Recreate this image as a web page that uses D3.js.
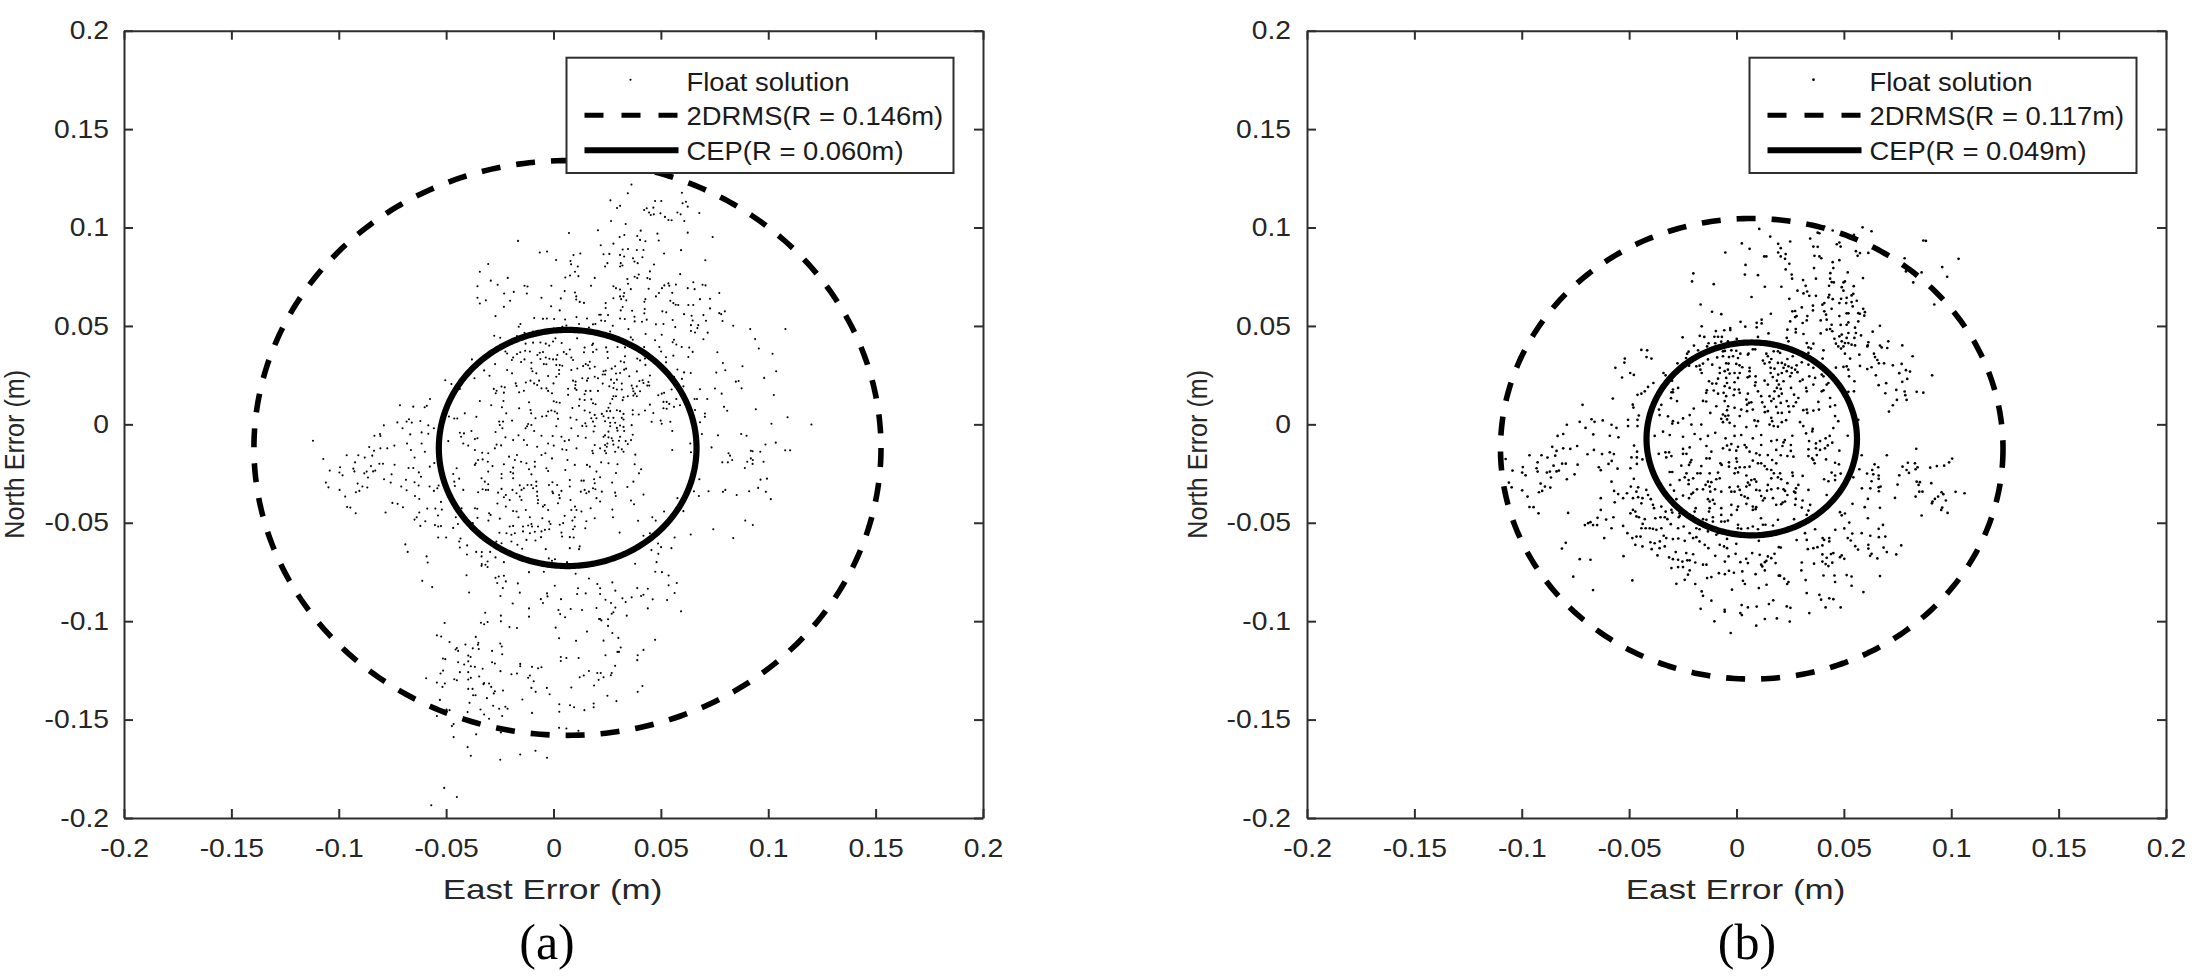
<!DOCTYPE html>
<html>
<head>
<meta charset="utf-8">
<script src="https://cdn.jsdelivr.net/npm/d3@7"></script>
<style>
  html, body { margin: 0; padding: 0; background: #fff; }
  svg { display: block; }
</style>
</head>
<body>
<div class="area"></div>
<script>
const tickValues = [-0.2, -0.15, -0.1, -0.05, 0, 0.05, 0.1, 0.15, 0.2]
const tickLabels = ["-0.2", "-0.15", "-0.1", "-0.05", "0", "0.05", "0.1", "0.15", "0.2"]
const axisDomain = [-0.2, 0.2]
const legendNames = ["Float solution", "2DRMS(R = ", "CEP(R = "]

// ring centre east, centre north, radius (m)
const dashedRingA = [0.0065, -0.012, 0.146]
const solidRingA = [0.0066, -0.012, 0.060]
const dashedRingB = [0.0071, -0.0124, 0.117]
const solidRingB = [0.0071, -0.0074, 0.049]

// float solutions, east,north pairs in mm
const floatA = [
7.2,97.2,-16.5,93.2,20.7,98.6,-6.4,87.3,-3,87.8,1.2,83.5,7.9,83,9.3,86,12.5,86.8,8.2,81.3,11.3,80.2,10,77.5,11.6,75.3,7.7,75.6,5.5,74.6,19.2,74.4,-30.4,81.5,-34.3,77.5,-21.3,74.4,-29.2,73,-35.4,70.2,-26,70.9,-13.5,70.4,-12.1,70,-1,70.4,17.5,70.4,5.2,67.7,10,67,-18.5,67.3,-23,66.5,-12.4,66.5,10.6,65,-5.6,64.3,3.4,64,-35.4,64.3,-31.5,63,10.6,63.4,12.2,62.2,14.2,61.7,-34.3,61.4,-20.2,62.8,-23.1,59.7,-1.1,60,2.9,57.9,-27,55,-9,54,-4.9,53.6,-3.1,53.8,.3,53.5,5.4,53.3,10.7,54.5,15.6,53.8,21.3,55.7,-15.4,51,-16.2,49.6,6,50.2,4.1,49.6,11.9,51,18.4,50.8,19.5,51,16.5,49.2,.1,48.7,9.7,48.9,-13.5,46.5,-9.5,47.2,-27.6,45,-24.8,44,-17,44.8,
.9,43.7,-.2,42.1,11,43.7,-6.1,41.6,-9.5,41.5,-13,41,-3.6,41,-2,40,3.8,41.3,18.4,41,14.5,39,18,40.3,7.6,38,20,38,-11,37,-13.2,37.4,1.8,35.2,-22.4,37,-17,35.7,-15.5,36.6,-6.4,36.4,-4.9,36.7,4.8,36.7,6,35.7,14.2,36.6,18.4,36.7,-21.6,36,-18.8,34,-19.4,32.7,-13.5,33,-7.5,35.2,-3.6,34,-1.9,33.3,-.2,33,1.3,33,8.3,34,9.1,32.7,-6.1,33.2,-15.1,31.7,-10.3,31.3,-4.5,30.6,-3.3,30.5,1.3,30.1,2.9,30.1,4.1,29.8,15,30.6,16.9,31.8,16.1,30,13.8,29.6,19.2,29.3,-38,33,-27.2,30.6,-32.3,27.4,-21.6,27.6,-19.3,25.9,-10.3,28.4,-9.8,27,2.6,27.6,8.3,27.6,11.1,28.4,16.9,28.4,-8,25.9,2.6,25.6,-2.5,24.6,1.3,24.2,0,20.8,-29.8,24.7,-36.8,23.4,-50.4,22.4,-47.5,20.5,-43.6,18,-17.6,20.8,-17.2,19.5,-12.9,21.3,-10.7,22.2,-9,20.8,-7.6,20,-6.7,22.2,-5.6,18.3,-3.3,18.3,-2.5,17,-.7,15.8,6.8,18.1,9.1,22.2,10.3,21.7,13.4,23.4,16.1,23.4,15.6,22.2,19.2,24.2,20.7,23.4,10.2,20,10.7,17.5,10,18.3,-27.8,18,-26.5,17.1,-26.9,15.8,-24.2,19.2,-22.7,18.8,-23.1,16.1,-13.8,17.1,-16,16.3,6.8,15,15,17,17.2,17,14.5,15.3,20.7,17,-57.5,12.9,-59,9.4,-60,8.7,-71.5,9.7,-65.3,9,-34.3,11.9,-29,9.7,-23.3,11.9,-24,8.7,-22,5.6,-16,8.2,-11.4,11.2,-10.7,7.3,-10.4,5.6,.1,11.7,1.4,11.2,2.9,11,12.2,12.7,14.5,12.4,11.9,9.4,8.8,8.3,17.6,12.7,18.4,10.7,19.6,10.2,14.5,7,16.9,6,19.2,4.8,17.6,3.1,20,3.1,-2.5,6.5,-1,7,.6,6.5,1.7,5.6,-3.3,4.3,-5.3,4,-8.4,3.1,7.9,3.4,10.7,2.3,2.1,2.8,-48.7,4,-46.2,3,-44.8,3,-41.3,5.6,-35.9,3.8,-79,-.5,-72.7,1,-68.4,1.4,-67.3,2.6,-66,.9,-62,1.7,-58.3,-.5,-70.3,-2,-55.7,-2,-25.3,1.4,-25,-.3,-23.5,1.4,-19.3,1.9,-11.8,.2,-10.3,-.3,-12.3,-1,-13,-2,1.3,-1,14.8,.5,13.4,-.8,15.3,-1,18.4,1.4,19.2,-1,8.3,-2,-23.8,-2,
36.3,121.8,34.6,117.4,59.8,117.7,26.5,113.8,47.3,113.5,50.2,113.5,61.7,113.1,60.1,112.3,62.5,110.6,31,111,29.6,109.9,43.4,109.8,42.2,108.9,46.5,110.1,44.5,107.6,45.3,106.4,46.7,106.7,49.8,107.2,57.7,107.6,59.2,106.7,67.9,107.4,51.9,105.4,53.5,103.8,55,103.7,60.9,103.3,26.8,103.3,33.6,101.8,40.6,98.4,48.4,96.9,62.5,97.4,30.8,95.2,33,96.2,39,95.7,40.3,93.7,42.8,93,49,93.4,74.1,95.2,27.9,91.8,22,91,59.4,88.5,34.7,89.1,32.2,88.8,38.8,88.6,41.9,88.6,51.5,86.8,23.3,86.4,26,86.6,31,86.1,32.9,85.3,37,84.4,41.4,84.9,70.7,83.4,37.7,82.7,39.2,81.9,25.1,81.9,31.3,81.9,24,80.2,31,80.2,32.1,80.7,46.8,81.2,44.9,77.7,59,76.3,39.7,76.1,37.8,75,39,74.3,34.4,73.8,43.7,74.3,44.9,73.8,65.1,72.2,53.5,71.6,34.7,71.4,57,71,51.6,70.6,53.9,70.4,69.4,70.9,70.8,70.6,27.9,70.2,29.1,69.2,31,68.5,36,68.7,44.3,68.9,50.5,69.2,62.5,69.2,65.7,68.7,32.9,66.7,55.3,66.8,77.2,66.7,49.1,66.7,47.7,65,31,65,27.9,64.1,32.6,65,31.5,63.6,72.9,63.8,68.2,63.6,42.8,63.6,42.3,62.3,33.9,63,54.4,62.8,55.8,61.6,56.9,60.8,58.1,60.6,62.8,60.6,65.1,60.6,24.3,61.6,24.3,59.1,32.2,59.6,31.3,57.9,42.5,58.6,36.6,57.7,42.3,56.4,50.7,57.4,52.5,56.9,72.9,58.9,77.2,56.5,78.1,56,79.8,57.4,60.8,56,64.3,55.2,69.8,55.5,25.4,55.5,22,55.7,37.7,54.7,31,53.8,33.2,53.5,22.2,52.8,24,52.5,37.8,52.3,41.2,52.1,43.4,53.2,55.5,53,64.8,52.8,71,52.6,78.7,52.5,83.7,50.1,64,50.4,67.4,50.4,47.7,50.8,51.2,51,56.7,49.4,67,48.9,27.6,50.1,34.9,48.4,91.6,48.4,108,48.4,64,47.4,65.9,46.7,71.8,46.6,26.4,47.2,42.9,45.9,50.4,45.5,36,44.2,36.9,43,30.2,44.2,93.9,43.3,69.8,43.2,47.3,42.7,56.1,43,55.5,41.7,57.2,40.6,59.7,39.3,63.2,39,95.6,38.5,42.2,39.3,49.3,39.3,50.1,37,64.8,36.8,76.3,36.6,102,35.9,29.8,39.3,33.3,39.1,24.5,39.1,25.1,36.8,55.8,34.9,62.8,34.2,52.4,34.1,52.4,31.5,78.9,31.2,39,33.4,42.6,33.4,40.3,32.5,33.3,34.6,31.3,32,32.9,31.5,25.3,33.7,88,29.5,42.8,30.2,28.7,29.5,57.7,27.9,80,27.5,60.8,26.4,63.9,26.1,75.8,26.3,103.7,27,33.8,28.3,32.9,27.8,27.1,28.3,23.3,27,24.3,27.3,31,26.1,29.1,25.8,38.8,26.9,24,25.3,22.9,25.3,35.3,24.4,44.9,24.8,56.1,24.1,59.8,23.1,98.1,23.6,84.9,21.7,86.2,22,41.5,22.4,40,22,44.2,21.5,41.9,21,29.5,22.7,26.8,22.7,28.2,21,22.9,20.7,31.8,20.7,36.4,19.7,38.8,19.3,43.7,19.7,44.6,19.7,60.5,19.3,68.2,17.8,75.2,18.2,87.6,18.3,26,19.3,27.9,18.5,29.5,17.7,31.8,17.7,40.3,16.8,36.9,18.2,37.2,16.8,55,17.7,51.5,16,50.4,15.6,48.8,14.8,78.3,15.6,102.6,14.9,27.9,14.3,29.1,14.3,32.6,13.8,34.6,14.3,38.8,14.3,37.2,14.6,38,15.6,27.4,12.9,32.2,12.3,26.4,10.6,51.2,11.4,52.7,11.4,53.9,10.4,57.2,12.9,65.7,12.9,66.8,12.9,71.6,12.9,44.9,10,58.9,9.7,56.1,8.9,51.2,8.2,52.7,7.9,79.4,8.9,80.9,6.9,94.2,7.7,65.9,7.3,42.6,7,36.9,7.2,29.5,7.2,31,6.7,25.6,8.4,26.4,6.7,24.8,6.7,36.9,5,39.7,5,46.5,5.8,32.6,5.3,22.5,5.3,23.3,4.1,70.5,5.5,70.5,3.8,109,3.6,25.6,3.3,27.9,3.3,31.8,3.3,49.9,1.9,54.4,1.3,45.7,1.3,68.2,1.1,50.4,.3,101.5,.3,120.1,-.1,24,1.6,26.4,.8,28.7,.8,32.6,2.5,31,-.6,36.4,-.4,26.4,-1,29.5,-1.8,32.6,-1.3,
-112,-8.3,-83.4,-5.8,-80.8,-4.9,-80.6,-5.9,-66.7,-5.1,-61.4,-4.1,-58.3,-4.8,-49,-8.5,-43.6,-4.3,-43,-6.3,-41.7,-4.6,-38.2,-3.4,-36.6,-7.5,-35.4,-7.1,-68.2,-9.7,-61.4,-9.7,-74.1,-10.8,-77.4,-12.2,-80.6,-12.2,-85.8,-11.5,-83.6,-13.4,-66.4,-13,-59.9,-13.9,-96.3,-15.7,-90.9,-15.7,-87.9,-16.9,-84.4,-15.9,-107.2,-17.6,-64.7,-16.9,-57.6,-21.5,-92.4,-19.3,-81.1,-20,-79.4,-20,-74,-20.5,-55.5,-19.6,-85,-21.2,-99.4,-21.8,-93.2,-22.5,-92.7,-23.9,-104.2,-23.5,-99.7,-24.5,-98.2,-25.9,-88.1,-24.9,-87,-24,-84,-23.9,-83,-23.5,-75.4,-25.4,-67.5,-22.2,-65.3,-22.2,-62.7,-24.4,-61.7,-26.6,-86.4,-27,-78.9,-27.9,-68.7,-28.2,-75.8,-29.6,-64.7,-29.4,-106,-29.6,-91.2,-30.1,-104.8,-32,-62.8,-31.1,-89,-31.6,-86.7,-32.1,-70.9,-31.6,-57.7,-31.6,-53.5,-31.1,-99.6,-33.3,-68.4,-33.5,-90.4,-33.8,-92,-34.5,-54.1,-32.5,-55.7,-33.8,-97,-36.7,-64.5,-36.4,-62.5,-37.9,-75,-39.9,-72.6,-40.4,-52.4,-39.4,-70.1,-42.1,-96.1,-42,-94.6,-42.3,-58.8,-42.8,-55,-42.8,-52,-43.3,-78.2,-44.8,-92.1,-45.2,-62.5,-44.8,-53.8,-46.3,-45.5,-47.2,-63.7,-47.2,-64.7,-48.4,-59.7,-49.2,-62,-51.6,-55.2,-51.2,-53.7,-51.9,-52.4,-51.7,-46.7,-52.6,-44.5,-50.6,-53.7,-57.5,-50,-57.5,-43.3,-58,-43.9,-59.5,-69,-61,-40.2,-61.5,-43.6,-62.6,-67.9,-64.8,-36,-64.8,-40.3,-66.1,-33.4,-64.9,-29.5,-64.8,-59.1,-67.1,-33.5,-67.1,-27,-67.6,-58.6,-70.2,-30.7,-69.7,-23.1,-70,-33.4,-71,-31.7,-71.3,-33.5,-71.9,-30.7,-72.5,-40.5,-76.7,-61.1,-79.5,-56.5,-82.7,-39.3,-85.4,-27,-78,-25.5,-77.3,-23.1,-76.9,-26.2,-80.6,-22.2,-79.8,-23.6,-83.2,-24.7,-87.2,-16.6,-80.8,-15.7,-85.5,-19,-91,-11.4,-75.1,-4.5,-74.9,10.3,-75.9,16.5,-78.3,20.4,-81.1,.6,-82,11.4,-83.3,11,-86.2,15,-85.9,-3,-85.9,-2.8,-87.4,-5.9,-88.8,-4.9,-90.8,3.5,-88.8,-11.4,-93.5,2.3,-94.3,8,-93.8,13.3,-94.3,20,-93.3,3.1,-96.4,5.4,-98,-11.4,-97.7,21.2,-98.9,-31.8,-95.7,-24.5,-97.2,-24.5,-100.1,-33.8,-100.8,-30.7,-100.4,-32.3,-101.6,-50.7,-100.9,-20.5,-103,-17,-103.5,1,-103.3,15.6,-105.3,2.6,-108.7,10.5,-110,-54.3,-107.2,-52.3,-107.8,-48.4,-110.6,-36.2,-108,-41,-111.9,-35,-111,-35.2,-112,-24.8,-111.4,-24.1,-112.9,-45,-113.6,-45.6,-114.4,-44.4,-115.1,-37.6,-113.8,-34.8,-114.1,-28.6,-115.1,-23.9,-116.8,-39.7,-117.5,-38.6,-118.2,-51.5,-119,-50.4,-119.3,-39.7,-120.4,-44.4,-120.9,-41.6,-122,-28.6,-120.9,-27.3,-121.5,3.4,-118.2,6,-118.7,11.7,-118.7,3.4,-120.2,-15.5,-121.7,-15.5,-122.9,-38.5,-122.9,-36.6,-123.2,-33,-124.2,-24.7,-125.4,-10,-123.2,-7.2,-123.9,-5.6,-123.4,-39.7,-125.9,-43.6,-125.9,-51.4,-125.1,-52.6,-126.6,16.5,-125.3,14.1,-127.6,12.2,-128.5,20.4,-126.3,-19.6,-127,-17,-126.6,-11,-127.6,-11.8,-128.8,-34.6,-128.1,-38.5,-128.8,-39.7,-129.6,-59.3,-129,-46.2,-129.5,-45,-130,-9.2,-130.5,21,-129.8,-54.3,-131.2,-50.6,-131.7,-32.3,-131.4,-30,-131.7,-51.7,-133.4,18.9,-132.7,-32.6,-132,-10.3,-133.9,-3.1,-133.9,8.3,-133.7,-39.7,-134.4,-37.7,-134.4,-29,-133.4,-27.3,-135.6,-23.5,-135.2,-27.8,-136.7,-8.3,-135.9,-1.8,-137.1,-37.4,-137.6,-36.3,-137.6,-31,-139.1,-14.5,-139.8,-52.9,-140,-39.1,-141.5,2.7,-142.2,7.7,-142.7,9.6,-143.7,18.7,-141.8,18.7,-143.7,-28.1,-143,-25.3,-144.5,-22.4,-143.5,-21.4,-144.5,-34,-144.9,-49.8,-144.9,-48.4,-145.2,14.4,-145.2,2.7,-146,-10,-146.6,-40,-146.2,-32.3,-147.4,-23.9,-148.2,-54.3,-148.2,-30,-149.6,-46.5,-152.3,-47.3,-153.3,2.6,-154.2,6,-154.5,11.6,-155.7,-24.5,-156.5,-36,-157.5,-46.5,-158.9,-40,-164,-8.4,-165.8,-15.5,-167.7,-38.5,-168.4,-3,-169.4,-24.8,-170.4,-50.9,-184.7,-45,-189.3,-56.9,-193.5,
-27,-3.9,-22.4,-6.6,-18.8,-8,-16.3,-5.6,-13.8,-8,-12.3,-10.5,-9,-3.4,-5.6,-5.8,-2.5,-9.7,-.4,-5.9,.1,-10.8,3.7,-6.3,5.2,-8.5,7.2,-8,11.4,-5.9,18.7,-3.6,15,-6.8,19.2,-10.5,-26.5,-10.3,-24.4,-10.7,-7.6,-11.4,4.1,-12.7,6,-13,10.7,-12.2,18.1,-13.4,-42,-9.7,-39.7,-10.8,-36.6,-13,-33.2,-14.4,-30.4,-14.7,-27.3,-12.2,-20.7,-16.4,-17,-15.6,-3.8,-14.7,-5.6,-15.6,-.7,-17.3,6.5,-18.1,18.4,-14.7,-33,-17.8,-35.1,-18.1,-30.6,-19,-36.2,-19.8,-36.6,-20.6,-28.4,-21.2,-23.1,-20.3,-18,-18.1,-15.1,-19,-12.6,-19.8,-8.7,-19,-8.7,-21.5,-18.8,-22,-11.4,-22.8,-3.3,-22.3,-2.5,-23.7,5.5,-23.2,9.9,-20.6,15.6,-20.6,16.9,-21.5,20,-24,-30.4,-24,-24.2,-25.2,-20,-24.2,-18.8,-24.9,-10.3,-25.4,-45.1,-22.3,-46.7,-25.2,-43.9,-27.6,-46.2,-29.1,-45.9,-31.3,-42,-33.3,-33.5,-27.4,-32,-29.1,-30.4,-30.4,-24.2,-27.4,-18.8,-27.4,-15.7,-31,-12.1,-30.8,-10.3,-30.8,-8,-29.1,-8,-31.3,-2.1,-30.8,-.5,-29.4,1.7,-30.8,7.6,-28.3,13,-28.6,14.1,-28.6,18.9,-27.9,19.2,-29.9,18.4,-32.5,-24.2,-32.8,-33,-33,-31.5,-33.3,-30.4,-33.3,-25.8,-34.7,-19.1,-33.3,-17.2,-35,-14.9,-33.3,-13.8,-32.5,-9.5,-32.5,-7.6,-34.2,-.5,-34.2,3.7,-33.8,2.6,-35.9,7.6,-31.6,12.7,-34.2,14.5,-33.3,15.3,-35,16.5,-34.2,19.5,-33,-35.1,-34.5,-22.2,-35.9,-20.4,-38.4,-15.7,-36.7,-14.9,-38.4,-7.6,-36.4,-7.2,-38.4,-.2,-35,2.9,-37.5,7.9,-38.4,20,-37.5,-26.1,-40.2,-23.1,-37,-7.3,-40.1,-4.1,-41,-4.9,-41.8,2.1,-40.1,17.3,-42.6,-2.5,-43.5,10,-41.8,8.3,-43.5,10.7,-43.5,13,-44.3,-42.8,-42.6,-36.6,-42.6,-35.5,-42.9,-22.2,-41.8,-18.8,-44,-17.2,-44.3,-12.9,-43.5,-30,-45.2,-29.3,-46,-35.4,-47.5,-30.3,-48.9,-25,-47.9,-16.3,-47.2,-11,-47.2,-5.2,-47.7,-2,-49.4,-1.4,-50.6,5.2,-46.5,2.9,-51,4.5,-50.2,9.9,-47.2,8.8,-48.9,15.3,-49.2,19.2,-47.7,-37.6,-50.2,-18.8,-51.6,-20.4,-51.9,-14.2,-51.9,-11.8,-51.4,-10.3,-50.6,-10,-51.9,-7.2,-51.9,-5.6,-54.4,-2,-53.3,-4,-53.6,9.9,-51.9,9.1,-53.3,14.8,-52.8,-25.2,-55.1,-21.9,-55.3,-19.6,-56.1,-18,-55.3,-14.2,-54.4,-11,-55.3,-8.7,-54.6,3.7,-55,4,-57,7.6,-57.3,9.4,-57.5,-12.6,-58.7,-8.4,-59,-5.8,-57.3,-19.6,-59.5,-26.6,-59.5,-24.2,-60.4,-16.8,-61.2,-14.6,-63.2,-3.6,-63.4,7.6,-62.9,12.2,-62,11.9,-63.4,-26.6,-61.2,-2.2,-68.1,-.7,-69.3,.7,-68.5,-11,-69.7,6.3,-70,
25.6,-3.7,29.8,-3.2,32.9,-3.4,36.9,-5.3,24,-5.6,23.3,-6.3,31,-6.3,27.1,-7.1,25.6,-6.6,27.6,-8.3,30.5,-8.3,36.1,-8,33.6,-8.5,34.6,-10,25.1,-9.7,24,-10.5,24.8,-11.4,27.9,-10.3,30.2,-11.7,31.8,-12.7,21.7,-12.2,23.9,-13.4,28.7,-13.9,32.6,-13.9,24.5,-14.7,38.1,-15.4,55.3,-13,55.3,-3.4,22.2,-19.3,25.6,-19.8,29.8,-20.3,37.8,-20.3,40.8,-22.8,39.8,-24.9,29.1,-24.7,21.7,-26.9,37.2,-29.1,27.3,-29.6,34.4,-31.8,22.5,-34.2,28.7,-34.7,41.9,-35.7,29,-36.4,21.7,-39.2,36.1,-38.7,37.5,-40.6,57.7,-37.5,27.4,-43.3,51.5,-44.3,60.5,-44.1,27.7,-47.2,46,-47.2,47.6,-48.9,39.4,-49,30.8,-55,44.9,-55.3,41.9,-56.6,56.4,-57.5,63.9,-56,74.4,-53.3,83.7,-57.8,89.3,-48.9,92.8,-51.1,48.7,-60.5,50.1,-62.4,54.9,-62.9,45.6,-63.9,48.8,-65.8,38,-70.8,48,-70,47.4,-74.9,50.5,-75.1,53.6,-76.8,27.4,-80.3,57.4,-80.6,53.6,-81.8,21.7,-83.3,39,-83.2,43.9,-83.5,28.8,-84.5,56.4,-85.7,41.9,-86.6,40.8,-87.2,21.7,-86.2,36.4,-87.9,32.1,-88.4,46.2,-88.9,52.9,-89.3,24.2,-89.1,33.6,-90.3,26.8,-90.8,28.8,-93.1,43.9,-93.5,59.4,-95,27.9,-95.5,27.1,-96.2,34.1,-97.2,21.7,-98.9,25.4,-99,22.3,-99.6,25.4,-102.4,27.4,-106,30.2,-108.5,47.3,-109.5,23.3,-109.9,31.3,-113.4,41.9,-114.6,29.8,-115.6,30.5,-115.6,24.2,-117.3,39.2,-117.3,39,-119.8,28.7,-122.7,22,-126.3,27.1,-126.3,26.7,-127.5,23.3,-128.5,41.4,-132.9,39.2,-135.9,25.1,-137.9,29.3,-140.6,
69.1,-4.9,76.6,-5.6,87.4,-4.9,89.9,-5.8,63.7,-9.7,73.6,-11.7,98.7,-10.2,103.5,-9.3,107.9,-13.2,110.2,-13.2,91.9,-13.4,92.7,-13.7,96.3,-13.9,81.5,-14.7,82.2,-15.9,64,-14.2,83.2,-18.1,78.6,-19.3,81.2,-19.3,90.2,-19,91.9,-17.3,92.8,-18.1,92.7,-20.1,97.8,-19,89.1,-22.2,67.9,-27.9,96.4,-28.1,99.4,-27.6,95.3,-32.3,65.4,-34,72.2,-34,78.9,-34.3,80,-33.3,85.3,-35.9,91.1,-34,98.9,-34.3,67.7,-36.4,101.2,-38
]

const floatB = [
10.6,99.3,15.7,95.4,19.4,91.7,2.5,91.9,6.1,89.2,-5.2,87.3,19.4,87.3,12.9,85.3,13.9,85.3,4.2,81,-20.1,76.7,3.9,76.1,10,75.8,-20.7,72.6,-10.6,71.2,13.2,69.9,7,64.7,-16.7,60.9,-11.4,57.2,-7.1,56,16,56.2,1.9,52.1,11.7,53.2,11.7,51.3,9.4,51.6,9.4,49.3,4.1,49.6,-16.2,49.8,-2.9,48.9,-2.9,47.9,-5.7,47.8,-9.6,47.4,10,44.4,14.9,46.2,-17.1,45,-15,44.4,-25.1,44.2,-10.3,44.5,-8.6,44.5,-6.8,44.4,.1,43.4,-9.9,41.2,-7.1,42,-4,42.2,-13,41.2,-13.7,39.6,-19.8,40,-17.9,37.6,-22.3,36.9,-23,35.9,-44.3,37.8,-41.6,37.6,-41.9,34.2,-39.6,33.4,-52,33.4,-52.2,31.4,-56.4,28.7,-27.5,31,-23.5,33.7,-22.1,29.8,-49.5,26.1,-47.8,25.1,-53.3,23.8,-34,26.1,-33,24.9,-30,22.2,-38.7,21,-41.2,19,-42.7,16.8,-44.3,15.6,-46.1,15,-57.6,13.1,-71.7,9.9,-48.3,10,-48,8.5,-45.5,4.5,-50.5,2.3,-46.1,2.3,-79,-.2,-73,1.3,-67.5,2.6,-66.1,1.3,-62.3,2,-58.2,-.2,-55.9,-1.8,-70.3,-1.8,-50.5,-.9,-46.1,-.9,
-6.3,37.1,-5.4,37.3,-2.4,37.6,-.1,37.4,1.8,35.9,5.6,35.9,7.6,38.1,8.7,38.1,13.9,35.9,17.3,37.1,19.3,37.1,14.6,34.6,16.2,33.2,-9,34,-6.3,34.6,-3.5,34.2,-1.6,34.6,.7,33.7,5.3,35.4,-13.3,33,-15.6,30.9,-17.2,29.8,-18.7,29.5,-11.3,30.3,-4.8,31,-3.7,30.9,-.1,30.7,1.4,30,2.7,29,12.3,32.4,13.1,30.9,15.4,31.5,19.3,31.2,6.1,28.7,6.1,27,15.9,28.7,17.7,28.3,-16.8,27.8,-16.2,26.1,-7.8,28.7,-5.5,27,-4,27.8,-.9,26.1,-3.2,25.8,-7.8,26.1,1.5,26.1,8.9,24.4,6.1,24.4,5.2,23.9,15.9,26.1,19.4,25.3,16.9,24,-12.8,21.9,-11.3,20.7,-9.4,20.7,-8.6,23.2,-4.8,23.6,-4.4,21,-.9,21.4,.7,23.6,13.1,22.2,8.9,21.4,14.6,20.2,18.8,22.2,19.7,20.2,8.6,19.7,-5.5,19.4,-3.2,18.5,-.9,17.7,1.1,17.7,1.5,16,10,16.8,5.3,15.6,17.7,16.8,18.8,18.5,-13.8,17.3,-14.1,16,-10.6,17.2,-8.6,15.6,-6,16,-4.8,14.3,-1.3,14.8,11.5,14.3,15.4,14.3,17.3,13,19.7,14.3,-15.6,11.9,-14.1,11.6,-5.5,11.8,4.6,12.6,5.8,10.9,6.9,11.2,4.9,10,12,11.2,16.2,11.8,13.1,8.9,18.5,8.9,-29.6,17.7,-30.3,16.3,-27.2,18.5,-29.6,16.3,-30.5,13.3,-27.7,11.8,-35,9.9,-36.1,7.5,-35.8,4.7,-31.9,4.1,-29.6,1.6,-29.9,.4,-24.9,3,-27.2,.8,-21.8,4.7,-19.9,8,-21,-.1,-16.4,-.1,-12.2,5.8,-9.4,9.2,-3.9,9.2,-.9,8.4,2.2,7.5,4.9,6.7,7.6,7.5,13.2,6.2,14.6,6.7,-4.4,7.2,-6.3,5,-5.2,4.2,-3.8,4.5,-7.1,2.8,-4.4,2.5,-6.3,1.1,-3.2,.8,1.5,4.2,8.4,2,10,1.6,16.2,3.3,16.6,1.6,15.4,-.1,19.3,5.8,19.3,-1.2,-.9,-.9,4.6,-1.4,9.2,-.9,17.3,-.9,
40.8,100.5,58.7,100.1,62.9,98.1,44.8,98.5,37.8,97.4,38.6,97.1,54.7,96.3,34.3,94.4,87,93.4,88.2,93.2,25,92.9,47.9,92.4,46.7,91.5,48.5,90.3,35.8,90.3,37.8,90.2,20.6,89.5,55.6,88,61.4,87.1,57.5,87,56.4,85.6,22.9,86.5,20.6,85.3,22.6,84.1,36.3,85.6,38.6,85.3,39.5,84.4,78.3,84.4,103.4,84.1,44.8,82.4,47.9,83.4,24.6,81.6,36.1,79.4,45.1,79.4,95.8,79.9,22.9,78.7,51.8,77.2,43.7,76.8,25.7,76.1,78.9,77.7,86.2,77.2,25.9,74,37,74,43.6,74,58.9,74.3,98.1,75,31,73.3,45.3,72.1,44.3,72.3,50.5,72.6,49.8,72.1,82.3,72.1,20.9,69.9,32.2,70.4,43.1,70.4,49,69.7,54.6,70.2,49.8,67.9,28.4,67.9,31.2,66.5,32.9,67.5,54.4,66.3,53.6,65.5,33.9,65.3,37,65.3,43.2,65.8,42.8,64.5,44.8,63.6,51.3,64.3,24.6,63.8,48.7,63.8,47.9,61.6,51.1,61.6,56,62.8,53.6,62.1,92.1,60.9,40.9,61.6,40,60.8,35.6,60.3,35.6,57.9,54.1,59.9,30.4,59.4,44.3,58.7,59,58.7,26,57.4,27.3,57.6,40.9,57.4,41.7,55.7,51.3,56.4,52.1,56.4,56.7,56.5,57.5,56.2,59.8,57,59.5,55.2,28,55,27.3,54.5,33,55,47.9,55,42,53.2,39.2,52.8,32.7,52.8,25,52.3,30.8,51.5,44.3,50.6,52.1,51.8,51.3,50.6,48.5,50.5,56.7,52.3,66.8,50.1,55.2,49.1,42,48.1,43.6,48.4,44.6,47.3,23.7,48.1,27.6,48.4,27.6,46.7,31.2,45.9,39.2,46.2,52.1,46.4,55.6,46.4,58,45.2,63.4,47.1,49,45.6,47.9,44.7,45.6,43.5,51.3,43.9,54.9,43.9,23.4,43.9,24.2,42.2,32.7,41.3,35.8,41,46.3,41,49,42.2,50.5,41.3,52.1,41.3,53.6,40.5,55.2,40.1,61.4,41.7,61.1,40.1,70.7,42.2,47.4,39.6,49.8,39.6,48.7,38.5,33.5,39.1,34.7,38.5,66.8,40,67.6,39.1,70.2,38.8,77.2,40.1,40.5,37.6,50.5,35.9,60.9,39.6,57.2,35.4,64,35.9,64.5,34.2,82,34.6,40.1,33.4,52.9,33.4,65.6,32.7,66.3,31,68.7,31,72.8,30,76.9,30.7,57.5,29.7,60.9,28.1,62.9,29,46.3,28.8,49.8,29.2,51.3,29.5,52.1,27.8,78.9,27.5,80.8,26.8,75.8,26,91.1,24.9,64.9,24.9,52.4,24.4,79.5,23.1,77.2,21.6,54.9,21.9,66.2,19.9,69.7,20.9,74.4,17.5,78.3,16.7,78.6,14.8,83.9,16.5,87,16.1,69.3,15.8,52.1,16.5,54.7,16.8,74.7,12.4,79.2,12.4,72.8,9.7,71,6.5,56.7,2.3,45.1,-1.9,35.5,-2.3,
26.2,34.6,30.4,31.5,33.5,36.3,20.3,36.3,23.7,33.2,21.1,31.2,22.6,30.3,24.2,29.5,25.7,28.7,21.9,28.7,28,30,27.3,27.8,23.4,27,25.7,26.1,21.1,26.1,28.4,26.5,35.8,28.7,33.5,30.3,33.9,24.4,36.6,23.6,39.7,25.3,40.5,24.4,42.8,21,21.9,21.9,25,24.4,29.6,21.9,30.8,22.7,35.8,20.2,42,20.2,32.4,18.5,32.7,16.8,20.6,18,25.4,18.5,40.5,17.3,39.7,16.8,26.8,15.1,28.8,13.4,21.1,15.6,43.6,13.4,38.1,11.4,23.4,11.8,20.6,10.9,27.7,11.2,43.6,9,24.2,9.2,26.5,9.2,31.1,7.2,32.7,7.5,33,5.8,35.8,7,38.4,7.5,45.9,9.7,24.6,6.3,21.1,5.8,45.9,4.2,47.4,1.6,29.6,1.1,23.1,2.1,21.1,1.1,31.1,-.9,
-83.3,-5.9,-80.7,-4.9,-66.7,-5.1,-59,-5.8,-55,-6.6,-85.8,-11.4,-80.7,-12.2,-77.4,-12.5,-74.2,-11,-83.8,-13.5,-66.4,-13,-69.4,-15.2,-90.8,-15.7,-96.4,-15.7,-88,-16.9,-84.4,-15.9,-62.6,-15.1,-59,-14.2,-57.1,-15.1,-107.5,-17.6,-92.6,-19.3,-81.2,-20,-79.5,-20,-74,-20.5,-58.1,-18.6,-59.6,-20.1,-99.5,-21.7,-93.1,-22.3,-92.6,-24,-85.2,-21,-104.3,-23.5,-99.8,-24.5,-98.2,-25.9,-88.3,-24.5,-86.9,-24,-83.8,-23.9,-82.7,-23.5,-75.4,-25.4,-64.1,-21.8,-63.2,-23.3,-55.4,-22.5,-86.4,-27,-79,-27.9,-58.2,-29.1,-91.2,-30.1,-106,-29.6,-104.7,-32,-89.2,-31.6,-86.7,-32.1,-99.8,-33.5,-90.5,-33.8,-92,-34.5,-57,-33.8,-55.1,-35.4,-97.3,-36.7,-63.2,-37.5,-51,-35,-52.8,-37.5,-56.7,-39.6,-96.4,-42,-94.5,-42.1,-92.2,-45.2,-78.4,-45,-63.2,-43.5,-57.3,-47.2,-64.7,-47.5,-60.7,-48.4,-68,-49.7,-69.1,-50.2,-70.6,-51.2,-66.8,-51.2,-64.9,-51.2,-58.2,-52.8,-52.8,-51.6,-61.6,-57.8,-79.5,-60.2,-81.3,-63.1,-73,-68.5,-68,-68.8,-52.6,-67,-76,-77.4,-48.5,-79.3,-66.8,-84.2,
-47.7,-10.8,-46.3,-13.9,-48.9,-16.8,-46.4,-16.8,-43.8,-17.8,-46.4,-20.1,-49.4,-22.3,-47.8,-27.7,-49.2,-31.6,-45.8,-32,-46.6,-34.2,-42,-33.3,-41.2,-35.9,-48.2,-37.5,-45.8,-37,-43.8,-37.5,-39.9,-38,-44.3,-40.1,-38.9,-40.9,-38.4,-42.6,-35,-41.8,-48.2,-43.5,-49.4,-45.2,-47.1,-44.3,-46.6,-46.8,-45.4,-47.2,-42.7,-48.2,-37.8,-47.7,-35.4,-47.2,-33.4,-47.2,-32.2,-48.2,-33,-44.3,-30.3,-43.5,-29.9,-44.8,-26.5,-45.2,-26.9,-47.2,-43.7,-50.6,-44.3,-52.8,-42.3,-52.8,-40.4,-52.8,-38.9,-53.1,-37.3,-53.6,-35,-52.8,-30.6,-50.7,-27.2,-52.8,-24.6,-51.9,-21.8,-55.3,-50.8,-55.3,-48.5,-57.8,-46.6,-57,-44.7,-57,-47.1,-61.2,-43.8,-62,-40.1,-59.9,-38.1,-60.4,-35.7,-59.5,-33.9,-56.6,-32.7,-57.8,-29.6,-58.3,-27.1,-58,-24.1,-59.2,-20.2,-57.8,-18.7,-57.3,-17.2,-59.5,-14.8,-61.2,-13.1,-62.9,-39.5,-63.4,-35.8,-62.9,-33.4,-62,-36.8,-66.6,-28.3,-64.9,-23.4,-65.4,-20.2,-66,-31.4,-67.6,-29.6,-68.5,-27.2,-68.8,-22.9,-69.1,-21.8,-69.1,-25.2,-69.7,-19.2,-70.2,-15.6,-71.3,-14,-71.3,-30.3,-73,-27.2,-72.5,-24.9,-72.5,-21.8,-74.2,-22.6,-76.4,-24.1,-79,-28,-81,-19.2,-81.1,-13.7,-78.1,-11.7,-77.6,-8.2,-75.6,-5.4,-76.1,-3.5,-74.4,-1.2,-75.4,2.7,-74.7,8.9,-76.1,19.7,-76.9,3,-79.5,3.9,-81.1,10.4,-83.2,14,-81.5,-2.1,-84,-16.2,-84.9,-15.6,-87.1,-11.7,-89.6,17.1,-89.4,15.1,-91.3,2.4,-91.8,5.3,-93,9.4,-92.6,-16.7,-93.7,-5.5,-94.2,-5.5,-95.2,1.8,-95.9,2.5,-96.9,13.2,-98.9,18.8,-98.6,-10.3,-100.1,9.2,-102.3,-2.7,-106,
-7.8,-61.2,-5.8,-62,-4.4,-62.9,-.1,-60.7,10.4,-59.2,19.7,-62.4,-9.9,-66.8,-3.7,-67.1,-.4,-65.8,7.3,-65.4,10.8,-66.3,14.6,-67.1,16.2,-68,17.7,-65.8,4.5,-68.3,1.8,-70,5.3,-70.5,-5.4,-69.7,11.5,-71.3,13.2,-70,13.9,-69.3,18.2,-70.5,13.2,-74.2,12,-72.2,
-38.1,-5.9,-34.2,-3.7,-31.1,-5.4,-24.9,-6.3,-19.5,-4.9,-16.8,-7.5,-13.3,-5.9,-9.9,-4.3,-5.1,-7.1,-.9,-5.9,2.2,-5.4,7.6,-7.1,11.5,-5.4,16.2,-8.5,18.8,-8,-21.8,-11.7,-24.9,-12.5,-14,-11,-4.4,-10.8,-2.4,-10,.7,-11.4,3.8,-10.5,4.6,-11.7,11.5,-10.5,-6.3,-12.2,-3.2,-13,-.1,-13.4,6.1,-13.9,18.5,-13,-36.2,-15,-33.1,-14.2,-31.4,-14.2,-24.9,-15,-23.3,-15,-11.7,-13.9,9.2,-14.7,10.8,-15.6,14.6,-15.6,-32.7,-16.8,-30.3,-16.1,-14,-17.3,-25.7,-21,-21,-18.1,-21.5,-19.3,-22.1,-20.6,-16.4,-21.2,-12.5,-17.3,-7.5,-19.8,-6.9,-20.6,-3.5,-19.3,-3.5,-21.5,-.1,-17.3,.2,-19,-.4,-22.3,1.5,-21.8,3.8,-21.8,6.1,-21.5,7.6,-18.4,10,-19.8,11.5,-19.8,13.1,-21.2,14.2,-22.8,16.6,-18.1,18.5,-19.8,16.2,-23.2,-31.1,-24.2,-29.9,-24.2,-18.2,-24.9,-16.8,-24.9,-23.3,-24.9,-24.1,-26.9,-12.5,-24.9,-8.6,-24.5,-.9,-24.9,.7,-24.4,4.6,-26,17.4,-24.9,-7.8,-27.4,-9.4,-27.9,-26.5,-28.3,-22.3,-28.3,-20.2,-27.4,-13.3,-29.1,-11.7,-29.4,8.4,-27.9,6.9,-28.3,9.2,-29.1,5.3,-29.6,16.2,-27.4,19.3,-26.9,-22.3,-30.4,-30.8,-30.8,-14.4,-30.8,-12.5,-31.6,-10,-33,-3.2,-32,.7,-31.6,4.6,-31.6,6.1,-30.8,9.2,-33.3,10.8,-33.6,14.2,-33.7,14.6,-30.8,16.2,-33,19.3,-32.5,-29.1,-33.7,-18.4,-33,-15.6,-33,-12.2,-34.2,-7.1,-34.2,-2.4,-34.2,-.9,-34.2,1.5,-33.3,-21,-35.4,-24.9,-36.2,-20.2,-34.7,-31.1,-37.5,-28,-38,-22.1,-37.5,-13.3,-38,-12.5,-39.2,-11,-38.4,2.2,-35.9,3.8,-36.7,5.3,-37.5,11.5,-36.4,13.1,-37.5,12.3,-38.7,17,-37.5,-10.2,-40.4,-7.1,-42.6,-2.4,-40.9,.7,-41.8,4.6,-40.4,7.6,-41.8,9.2,-42.1,18.5,-40.9,-19,-42.6,-19.5,-44.3,-12.5,-42.6,-12.8,-44.3,.2,-43.5,7.6,-43.5,8.9,-43.1,-26.4,-46.5,-20.3,-46.8,-15.6,-48.2,-14,-48.5,-11,-47.2,-7.1,-46,-2.4,-46,11.4,-47.7,19.3,-48.5,-11,-49.4,-7.1,-49.4,-5.5,-49.4,-4,-48.9,.7,-51,-18.7,-52.8,-17.2,-53.3,-13.3,-54.4,-9.4,-56.1,-8.6,-55.3,-4.4,-58.2,.7,-52.8,2.2,-53.1,5.3,-52.8,7.6,-51.9,10,-53.3,12.3,-51,13.5,-51,17,-51.4,
83.7,-12.4,70,-15.7,58.3,-15.7,100.4,-17.4,99,-19.3,79.8,-19.5,83.1,-19.8,77.3,-21.5,84.3,-21.8,83.4,-22.8,64.3,-20.3,66,-21.8,57.2,-22.8,63.2,-23.2,79.2,-23.2,80.3,-24.7,96.7,-21,93.3,-21.2,90.2,-22,60.8,-25,63.7,-25.4,66.2,-26,66.2,-27.7,54.4,-26.9,75.8,-25.9,62.9,-28.9,83.9,-29.1,85.4,-29.4,84.8,-30.8,90.7,-29.9,75,-30.6,58.4,-32.5,62.3,-32.5,66.2,-32,67.1,-31.6,66.3,-34,85.1,-34.2,86.6,-34.2,102,-34.3,106.2,-35,95.5,-34.5,96.3,-35.5,83.4,-36.7,73.8,-37.4,61.2,-37.9,93.9,-36.7,92.4,-37.9,91.3,-39.2,97.5,-38.7,91,-40.1,54,-40.4,59.7,-42.1,66.8,-42.4,95.8,-42.3,95.3,-43.5,98.3,-45,48.2,-44.6,50.5,-45.3,49,-46.2,86.2,-46.3,61.2,-47.7,52.5,-49.9,68.2,-51.1,66.2,-53.1,50.2,-52.9,46,-53.6,36.6,-53.3,31.9,-55.3,53.9,-55.5,58.3,-55.3,62.3,-56.6,66.3,-57.3,69.3,-57,40.1,-57.8,43.2,-57.8,40.8,-58.7,43.2,-59.5,28,-58.8,32.7,-58.7,51.8,-57.8,53.2,-59,40,-61.5,55.3,-61.9,56.6,-63.6,61.4,-61.2,61.4,-63.1,68.5,-62.6,76.7,-61.5,20.6,-62.6,35.8,-62.9,37.7,-62.4,33.2,-63.4,70,-64.9,74.4,-66.1,62.2,-66.8,62.9,-65.8,65.6,-68.1,45.1,-65.4,44,-65.9,40,-66.1,48.2,-67.5,49,-66.6,50.2,-68.3,42,-67.8,30.4,-70.2,36.1,-70.8,40,-69.7,41.5,-71,42.8,-72,44.6,-70.3,30.2,-74.2,40.5,-76.8,45.6,-76.8,51.3,-76.6,53.6,-77.3,66.8,-77.1,20.3,-76.9,22.2,-78.4,24.2,-80.1,23.6,-81.1,32.2,-79.1,45.9,-80.1,53.6,-82,59.1,-85.2,32.7,-85.7,38.6,-86.6,43.2,-88.4,45.1,-88.8,39.4,-89.1,23.4,-92.5,25.1,-93.2,41.5,-93,48.5,-93,33.9,-95.9,24.8,-100.2,
26,-5.8,32.4,-4.6,35.3,-3.6,41.5,-7.1,43.4,-5.9,51.8,-5.8,22.5,-8,21.9,-9.2,33.8,-8.5,37,-9.7,38.9,-8.5,44.6,-9.3,25.3,-10.5,42.5,-10.7,21.4,-11,41.2,-12.2,33.5,-12.7,37,-12.2,38.9,-13,47.9,-13.4,25.3,-13.5,37.4,-15.6,20.6,-15.7,23.7,-16.1,26.5,-16.4,33.5,-16.1,35.2,-17.3,35.8,-18.1,41.7,-17.8,36.4,-19.8,45.9,-19.5,47.7,-20.3,26,-24.5,26.2,-26.2,20.3,-24.9,30.8,-26.2,44.3,-24.5,45.9,-26,48.5,-25,40.8,-27.9,42.8,-28.9,45.9,-28.3,20.8,-27.9,23.7,-29.9,28.8,-30.8,27.7,-32.5,21.9,-33,26.8,-34.2,22.6,-33.8,33.5,-33.3,23.7,-35.9,27.4,-34.7,42,-35.9,27.6,-37.9,22.6,-39.2,21.5,-39.7,30.8,-38.7,27.3,-40.9,20.8,-40.6,34.3,-40.9,30.4,-42.3,33.5,-43.8,32.7,-46,26.8,-48.2
]

const svgWidth = 2196
const svgHeight = 980
const plotTop = 30.7
const plotBottom = 818
const stretch = 1.11  // the reference was widened a little when pasted into the figure

const panels = [
  { left: 124, right: 983, points: floatA, dashed: dashedRingA, solid: solidRingA, r: 1.05, caption: "(a)", captionX: 547, yTitleX: 15, tickEnd: 109,
    legend: ["0.146m)", "0.060m)"] },
  { left: 1307, right: 2166, points: floatB, dashed: dashedRingB, solid: solidRingB, r: 1.35, caption: "(b)", captionX: 1747, yTitleX: 1198, tickEnd: 1291,
    legend: ["0.117m)", "0.049m)"] }
]

var svg = d3.select(".area")
  .append("svg")
  .attr("width", svgWidth)
  .attr("height", svgHeight)
  .attr("viewBox", [0, 0, svgWidth, svgHeight])
  .style("font-family", "'Liberation Sans', Arial, sans-serif")

function toPairs(flat) {
  return d3.range(0, flat.length, 2).map(i => [flat[i] / 1000, flat[i + 1] / 1000])
}

function widen(text, sx) {
  text.each(function () {
    const t = d3.select(this)
    const x = +t.attr("x") || 0
    const y = +t.attr("y") || 0
    t.attr("transform", `translate(${x},${y}) scale(${sx},1)`).attr("x", 0).attr("y", 0)
  })
}

function drawRing(layer, x, y, ring, attrs) {
  // start at the east point of the ring, as the original plot does
  const line = d3.line().x(a => x(ring[0] + ring[2] * Math.cos(a))).y(a => y(ring[1] - ring[2] * Math.sin(a)))
  const path = layer.append("path")
    .attr("d", line(d3.range(0, 361, 1).map(d => d * Math.PI / 180)))
    .attr("fill", "none")
    .attr("stroke", "#000")
  Object.entries(attrs).forEach(([k, v]) => path.attr(k, v))
}

function drawPanel(p) {
  const x = d3.scaleLinear().domain(axisDomain).range([p.left, p.right])
  const y = d3.scaleLinear().domain(axisDomain).range([plotBottom, plotTop])
  const g = svg.append("g")

  g.append("g").selectAll("circle")
    .data(toPairs(p.points))
    .enter()
    .append("circle")
    .attr("cx", d => x(d[0]))
    .attr("cy", d => y(d[1]))
    .attr("r", p.r)
    .attr("fill", "#000")

  drawRing(g, x, y, p.dashed, { "stroke-width": 5.6, "stroke-dasharray": "19 16" })
  drawRing(g, x, y, p.solid, { "stroke-width": 6.2 })

  const labelled = (axis) => axis.tickValues(tickValues).tickSizeInner(-9).tickSizeOuter(0)
  const axes = [
    [d3.axisBottom(x), `translate(0,${plotBottom})`, true],
    [d3.axisTop(x), `translate(0,${plotTop})`, false],
    [d3.axisLeft(y), `translate(${p.left},0)`, true],
    [d3.axisRight(y), `translate(${p.right},0)`, false]
  ]
  axes.forEach(([axis, tr, showLabels], i) => {
    const a = g.append("g")
      .attr("transform", tr)
      .call(labelled(axis).tickFormat((d, j) => showLabels ? tickLabels[j] : "").tickPadding(i === 0 ? 21 : 15))
    a.selectAll("path.domain").attr("stroke", "#2e2e2e").attr("stroke-width", 2)
    a.selectAll("line").attr("stroke", "#2e2e2e").attr("stroke-width", 2)
    a.selectAll("text").attr("fill", "#262626").style("font-size", "25.5px")
    if (i === 2) {
      a.selectAll("text").attr("dx", 0).attr("x", p.tickEnd - p.left).attr("text-anchor", "end")
    }
    widen(a.selectAll("text"), stretch)
  })

  // axis titles
  g.append("text")
    .attr("transform", `translate(${(p.left + p.right) / 2 - 1},899) scale(1.25,1)`)
    .attr("text-anchor", "middle")
    .attr("fill", "#262626")
    .style("font-size", "28px")
    .text("East Error (m)")
  g.append("text")
    .attr("transform", `translate(${p.yTitleX},${(plotTop + plotBottom) / 2 + 30}) rotate(-90) scale(0.93,1)`)
    .attr("text-anchor", "middle")
    .attr("dy", "0.35em")
    .attr("fill", "#262626")
    .style("font-size", "27px")
    .text("North Error (m)")

  g.append("text")
    .attr("x", p.captionX)
    .attr("y", 959)
    .attr("text-anchor", "middle")
    .style("font-family", "'Liberation Serif', 'Times New Roman', serif")
    .style("font-size", "50px")
    .attr("fill", "#000")
    .text(p.caption)

  // legend
  const lx = p.right - 416.5
  const lg = g.append("g").attr("transform", `translate(${lx},57.7)`)
  lg.append("rect")
    .attr("width", 387).attr("height", 115.3)
    .attr("fill", "#fff").attr("stroke", "#2e2e2e").attr("stroke-width", 2)
  lg.append("circle").attr("cx", 64).attr("cy", 22).attr("r", p.r).attr("fill", "#000")
  lg.append("line").attr("x1", 18).attr("x2", 112).attr("y1", 57.5).attr("y2", 57.5)
    .attr("stroke", "#000").attr("stroke-width", 5).attr("stroke-dasharray", "19 18")
  lg.append("line").attr("x1", 18).attr("x2", 112).attr("y1", 92.5).attr("y2", 92.5)
    .attr("stroke", "#000").attr("stroke-width", 6)
  const legendTexts = [legendNames[0], legendNames[1] + p.legend[0], legendNames[2] + p.legend[1]]
  legendTexts.forEach((s, i) => {
    lg.append("text")
      .attr("transform", `translate(120,${33 + i * 34.7}) scale(1.075,1)`)
      .attr("fill", "#1a1a1a")
      .style("font-size", "25.5px")
      .text(s)
  })
}

panels.forEach(drawPanel)
</script>
</body>
</html>
